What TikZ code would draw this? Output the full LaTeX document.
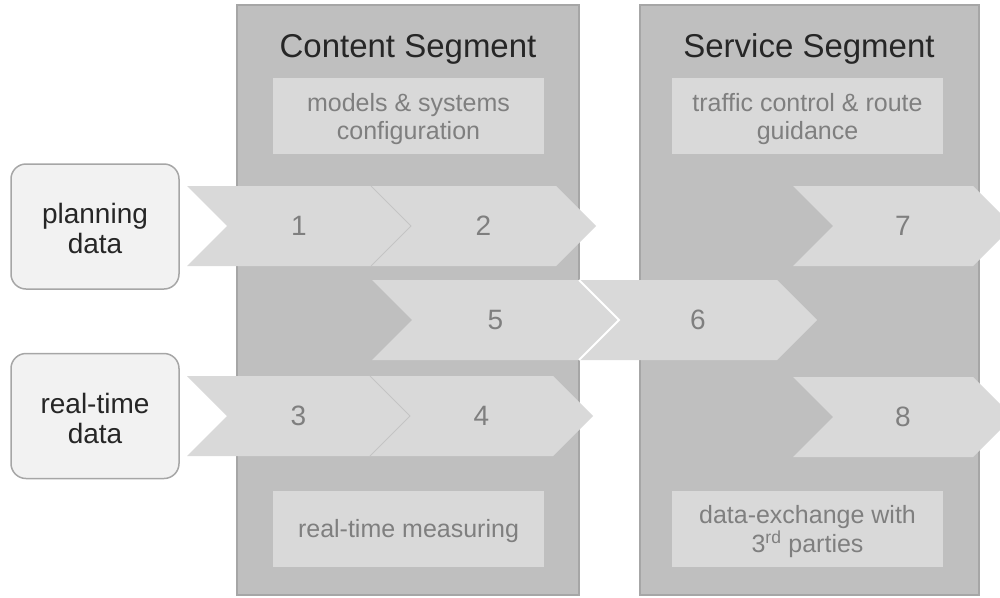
\documentclass[tikz,border=0pt]{standalone}
\usepackage{fontspec}
\setmainfont{Liberation Sans}
\definecolor{panelfill}{HTML}{BFBFBF}
\definecolor{panelline}{HTML}{A6A6A6}
\definecolor{chev}{HTML}{D9D9D9}
\definecolor{sidefill}{HTML}{F2F2F2}
\definecolor{numtext}{HTML}{7F7F7F}
\definecolor{darktext}{HTML}{262626}
\definecolor{sepline}{HTML}{C4C4C4}
\tikzset{
  panel/.style={draw=panelline, line width=1.5pt, fill=panelfill, anchor=north west, inner sep=0pt},
  innerbox/.style={fill=chev, draw=none, minimum width=271pt, minimum height=76pt, inner sep=0pt},
  innertext/.style={text=numtext, align=center, font=\fontsize{25}{28.5}\selectfont, inner sep=0pt, yshift=-3pt},
  sidebox/.style={draw=panelline, line width=1.5pt, fill=sidefill, rounded corners=15pt, minimum width=168pt, minimum height=125pt, inner sep=0pt},
  sidetext/.style={text=darktext, align=center, font=\fontsize{28}{30}\selectfont, inner sep=0pt, yshift=-2pt},
  segtitle/.style={text=darktext, font=\fontsize{33}{40}\selectfont, anchor=base},
  chevfill/.style={fill=chev, draw=none},
  numlabel/.style={text=numtext, font=\fontsize{28}{34}\selectfont},
}
\newcommand\chevronshape[5]{%
  \fill[chevfill] (#2,#4) -- (#3,#4) -- ({#3+40},{#4+40}) -- (#3,{#4+80}) -- (#2,{#4+80}) -- ({#2+40},{#4+40}) -- cycle;
  \node[numlabel] (#1) at ({(#2+40+#3)/2},{#4+40}) {#5};}
\begin{document}
\begin{tikzpicture}[x=1pt,y=-1pt]
\useasboundingbox (0,0) rectangle (1000,597);
\clip (0,0) rectangle (1000,597);
% panels
\node[panel, minimum width=342pt, minimum height=590pt] (content) at (236,4) {};
\node[panel, minimum width=339pt, minimum height=590pt] (service) at (639,4) {};
\node[segtitle] (contenttitle) at (408,57) {Content Segment};
\node[segtitle] (servicetitle) at (809,57) {Service Segment};
% inner boxes
\node[innerbox] (models) at (408.5,116) {};
\node[innertext] (modelstext) at (models.center) {models \& systems\\configuration};
\node[innerbox] (traffic) at (807.5,116) {};
\node[innertext] (traffictext) at (traffic.center) {traffic control \& route\\guidance};
\node[innerbox] (measuring) at (408.5,528.5) {};
\node[innertext] (measuringtext) at (measuring.center) {real-time measuring};
\node[innerbox] (exchange) at (807.5,528.5) {};
\node[innertext] (exchangetext) at (exchange.center) {data-exchange with\\3\textsuperscript{rd} parties};
% side boxes
\node[sidebox] (planning) at (95,226.5) {};
\node[sidetext] (planningtext) at (planning.center) {planning\\data};
\node[sidebox] (realtime) at (95,416) {};
\node[sidetext] (realtimetext) at (realtime.center) {real-time\\data};
% chevrons
\chevronshape{c1}{187}{371}{186}{1}
\chevronshape{c2}{371}{556}{186}{2}
\draw[sepline, line width=1pt] (371,186) -- (411,226) -- (371,266);
\chevronshape{c3}{187}{370}{376}{3}
\chevronshape{c4}{370}{553}{376}{4}
\draw[sepline, line width=1pt] (370,376) -- (410,416) -- (370,456);
\chevronshape{c5}{372}{579}{280}{5}
\chevronshape{c6}{579}{777}{280}{6}
\draw[white, line width=2pt] (579,280) -- (619,320) -- (579,360);
\chevronshape{c7}{793}{973}{186}{7}
\chevronshape{c8}{793}{973}{377}{8}
\end{tikzpicture}
\end{document}
